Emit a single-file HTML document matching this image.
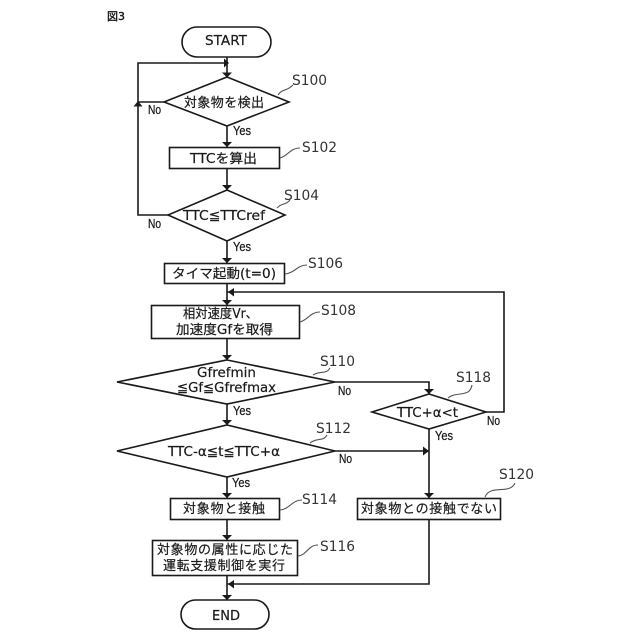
<!DOCTYPE html>
<html lang="ja">
<head>
<meta charset="utf-8">
<title>図3</title>
<style>
html,body{margin:0;padding:0;background:#fff;width:640px;height:640px;overflow:hidden}
svg{display:block}
text{font-family:"DejaVu Sans","Noto Sans CJK JP",sans-serif;font-size:13px;fill:#1a1a1a;stroke:#1a1a1a;stroke-width:.2}
.s{font-size:14px;fill:#333;stroke:none}
.y{font-family:"Liberation Sans","Noto Sans CJK JP",sans-serif;font-size:12.500px;stroke-width:.25}
.sh{fill:#fff;stroke:#1a1a1a;stroke-width:1.600}
.l{fill:none;stroke:#1a1a1a;stroke-width:1.600}
.t{fill:none;stroke:#555;stroke-width:1.100}
.a{fill:#1a1a1a}
</style>
</head>
<body>
<svg width="640" height="640" viewBox="0 0 640 640" xmlns="http://www.w3.org/2000/svg">
<rect width="640" height="640" fill="#fff"/>
<!-- connectors -->
<path class="l" d="M227 57V77M227 126V147M227 168V190M227 241V263M227 283V305M227 338V360M227 404V425M227 477V498M227 519V540M227 575V600"/>
<path class="l" d="M164 102H138V63H227M168 215H138V102"/>
<path class="l" d="M335 382H429V394M335 451H429M429 429V498M429 519V584H227M486 412H504V292H227"/>
<!-- arrowheads -->
<path class="a" d="M222 72.500H232L227 77.500ZM222 142H232L227 147ZM222 185H232L227 190ZM222 258H232L227 263ZM222 300H232L227 305ZM222 355H232L227 360ZM222 420H232L227 425ZM222 493H232L227 498ZM222 535H232L227 540ZM222 595H232L227 600Z"/>
<path class="a" d="M224 67.500V58.500L229 63ZM133.500 106.500H142.500L138 101ZM424 389H434L429 394ZM424 493H434L429 498ZM423 446.500V455.500L429 451ZM234 288V296.500L228 292ZM234 580V588.500L228 584Z"/>
<!-- shapes -->
<rect class="sh" x="182" y="27" width="89" height="30" rx="15"/>
<polygon class="sh" points="227,77 289,102 227,126 164,102"/>
<rect class="sh" x="169.500" y="147.500" width="110" height="21"/>
<polygon class="sh" points="227,190 285,215 227,241 168,215"/>
<rect class="sh" x="164.500" y="263.500" width="120" height="20"/>
<rect class="sh" x="151.500" y="305.500" width="148" height="33"/>
<polygon class="sh" points="227,360 335,382 227,404 117,382"/>
<polygon class="sh" points="227,425 335,451 227,477 117,451"/>
<rect class="sh" x="170.500" y="498.500" width="109" height="21"/>
<rect class="sh" x="152.500" y="540.500" width="145" height="35"/>
<rect class="sh" x="181" y="600" width="88" height="29" rx="14.500"/>
<polygon class="sh" points="429,394 486,412 429,429 372,412"/>
<rect class="sh" x="357.500" y="498.500" width="143" height="21"/>
<!-- leaders -->
<path class="t" d="M278 95C283 88 286 92 293 85"/>
<path class="t" d="M280 158C288 156 290 148 300 148"/>
<path class="t" d="M277 208C283 202 285 206 290 200"/>
<path class="t" d="M285 274C295 273 297 265 307 265"/>
<path class="t" d="M300 322C308 320 310 312 320 312"/>
<path class="t" d="M313 375C321 370 326 375 330 368"/>
<path class="t" d="M310 443C318 437 323 442 327 435"/>
<path class="t" d="M280 510C290 509 292 500 302 500"/>
<path class="t" d="M298 556C307 555 308 545 318 545"/>
<path class="t" d="M448 398C456 391 470 398 472 385"/>
<path class="t" d="M485 497C490 484 510 495 515 483"/>
<!-- main text -->
<text x="107" y="20" style="font-size:11px;stroke-width:.4" textLength="18" lengthAdjust="spacingAndGlyphs">図3</text>
<text x="205" y="45" textLength="42" lengthAdjust="spacingAndGlyphs">START</text>
<text x="184" y="107" textLength="80" lengthAdjust="spacing">対象物を検出</text>
<text x="190" y="163" textLength="67" lengthAdjust="spacingAndGlyphs">TTCを算出</text>
<text x="183" y="220" textLength="82" lengthAdjust="spacingAndGlyphs">TTC≦TTCref</text>
<text x="172" y="278" textLength="104" lengthAdjust="spacingAndGlyphs">タイマ起動(t=0)</text>
<text x="183" y="318" textLength="75" lengthAdjust="spacingAndGlyphs">相対速度Vr、</text>
<text x="176" y="334" textLength="97" lengthAdjust="spacingAndGlyphs">加速度Gfを取得</text>
<text x="197" y="377" textLength="59" lengthAdjust="spacingAndGlyphs">Gfrefmin</text>
<text x="177" y="392" textLength="99" lengthAdjust="spacingAndGlyphs">≦Gf≦Gfrefmax</text>
<text x="168" y="456" textLength="112" lengthAdjust="spacingAndGlyphs">TTC-α≦t≦TTC+α</text>
<text x="183" y="513" textLength="82" lengthAdjust="spacing">対象物と接触</text>
<text x="157" y="554" textLength="136" lengthAdjust="spacing">対象物の属性に応じた</text>
<text x="163" y="570" textLength="122" lengthAdjust="spacing">運転支援制御を実行</text>
<text x="212" y="620" textLength="28" lengthAdjust="spacingAndGlyphs">END</text>
<text x="397" y="417" textLength="61" lengthAdjust="spacingAndGlyphs">TTC+α&lt;t</text>
<text x="361" y="513" textLength="136" lengthAdjust="spacing">対象物との接触でない</text>
<!-- step labels -->
<text class="s" x="292" y="85" textLength="35" lengthAdjust="spacingAndGlyphs">S100</text>
<text class="s" x="302" y="152" textLength="35" lengthAdjust="spacingAndGlyphs">S102</text>
<text class="s" x="284" y="200" textLength="35" lengthAdjust="spacingAndGlyphs">S104</text>
<text class="s" x="308" y="268" textLength="35" lengthAdjust="spacingAndGlyphs">S106</text>
<text class="s" x="321" y="315" textLength="35" lengthAdjust="spacingAndGlyphs">S108</text>
<text class="s" x="320" y="366" textLength="35" lengthAdjust="spacingAndGlyphs">S110</text>
<text class="s" x="316" y="433" textLength="35" lengthAdjust="spacingAndGlyphs">S112</text>
<text class="s" x="302" y="504" textLength="35" lengthAdjust="spacingAndGlyphs">S114</text>
<text class="s" x="320" y="551" textLength="35" lengthAdjust="spacingAndGlyphs">S116</text>
<text class="s" x="456" y="382" textLength="35" lengthAdjust="spacingAndGlyphs">S118</text>
<text class="s" x="499" y="479" textLength="35" lengthAdjust="spacingAndGlyphs">S120</text>
<!-- yes/no -->
<text class="y" x="148" y="114" textLength="13" lengthAdjust="spacingAndGlyphs">No</text>
<text class="y" x="233" y="135" textLength="18" lengthAdjust="spacingAndGlyphs">Yes</text>
<text class="y" x="148" y="228" textLength="13" lengthAdjust="spacingAndGlyphs">No</text>
<text class="y" x="233" y="251" textLength="18" lengthAdjust="spacingAndGlyphs">Yes</text>
<text class="y" x="338" y="395" textLength="13" lengthAdjust="spacingAndGlyphs">No</text>
<text class="y" x="233" y="415" textLength="18" lengthAdjust="spacingAndGlyphs">Yes</text>
<text class="y" x="339" y="463" textLength="13" lengthAdjust="spacingAndGlyphs">No</text>
<text class="y" x="232" y="487" textLength="18" lengthAdjust="spacingAndGlyphs">Yes</text>
<text class="y" x="487" y="425" textLength="13" lengthAdjust="spacingAndGlyphs">No</text>
<text class="y" x="435" y="440" textLength="18" lengthAdjust="spacingAndGlyphs">Yes</text>
</svg>
</body>
</html>
